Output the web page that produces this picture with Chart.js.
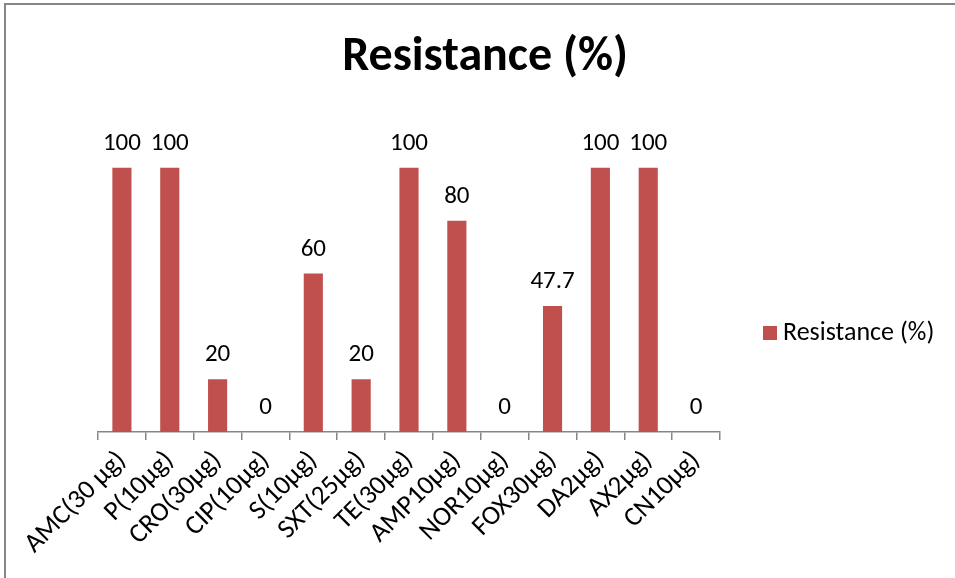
<!DOCTYPE html>
<html><head><meta charset="utf-8">
<script src="https://cdn.jsdelivr.net/npm/chart.js@4.4.0/dist/chart.umd.min.js"></script>
<style>
html,body{margin:0;padding:0;background:#fff;}
#wrap{position:relative;width:955px;height:578px;}
</style></head>
<body><div id="wrap"><canvas id="c" width="955" height="578"></canvas></div>
<script>
const categories = ["AMC(30 µg)","P(10µg)","CRO(30µg)","CIP(10µg)","S(10µg)","SXT(25µg)","TE(30µg)","AMP10µg)","NOR10µg)","FOX30µg)","DA2µg)","AX2µg)","CN10µg)"];
const resistance = [100,100,20,0,60,20,100,80,0,47.7,100,100,0];
const seriesName = "Resistance (%)";
const chartTitle = "Resistance (%)";
const FONT = "Carlito, Lato, 'Open Sans', sans-serif";
const BAR = "#C0504D";

const frame = {
  id:'frame',
  beforeDraw(chart){
    const ctx = chart.ctx;
    ctx.save();
    ctx.fillStyle='#fff';
    ctx.fillRect(0,0,chart.width,chart.height);
    ctx.strokeStyle='#868686';
    ctx.lineWidth=2;
    ctx.beginPath();
    ctx.moveTo(5,chart.height);ctx.lineTo(5,4);ctx.lineTo(chart.width,4);
    ctx.stroke();
    ctx.font = "bold 48px "+FONT;
    ctx.fillStyle='#000';
    ctx.textAlign='center';
    ctx.textBaseline='middle';
    ctx.fillText(chartTitle,485,58);
    ctx.restore();
  }
};
const labels = {
  id:'labels',
  afterDatasetsDraw(chart){
    const ctx = chart.ctx;
    const meta = chart.getDatasetMeta(0);
    ctx.save();
    ctx.font = "25px "+FONT;
    ctx.fillStyle='#000';
    ctx.textAlign='center';
    ctx.textBaseline='alphabetic';
    meta.data.forEach((el,i)=>{
      ctx.fillText(String(resistance[i]), el.x, el.y-18);
    });
    ctx.restore();
  }
};
const legendP = {
  id:'legendP',
  afterDraw(chart){
    const ctx = chart.ctx;
    ctx.save();
    ctx.fillStyle=BAR;
    ctx.fillRect(763,326,14,14);
    ctx.font = "26px "+FONT;
    ctx.fillStyle='#000';
    ctx.textBaseline='middle';
    ctx.textAlign='left';
    ctx.fillText(seriesName,783,333);
    ctx.restore();
  }
};

new Chart(document.getElementById('c'),{
  type:'bar',
  data:{labels:categories,datasets:[{label:seriesName,data:resistance,backgroundColor:BAR,borderWidth:0,barPercentage:0.4,categoryPercentage:1}]},
  options:{
    responsive:false,animation:false,
    layout:{padding:{left:98,right:235,top:115,bottom:0}},
    plugins:{legend:{display:false},tooltip:{enabled:false},title:{display:false}},
    scales:{
      x:{
        offset:true,
        grid:{display:true,drawOnChartArea:false,offset:true,tickLength:8,color:'#868686',lineWidth:1.5},
        border:{display:true,color:'#868686',width:1.5},
        ticks:{color:'#000',font:{family:FONT,size:27},maxRotation:45,minRotation:45,padding:5,autoSkip:false},
        afterFit(s){s.paddingLeft=0;s.paddingRight=0;s.height=146;}
      },
      y:{display:false,min:0,max:120}
    }
  },
  plugins:[frame,labels,legendP]
});
</script></body></html>
